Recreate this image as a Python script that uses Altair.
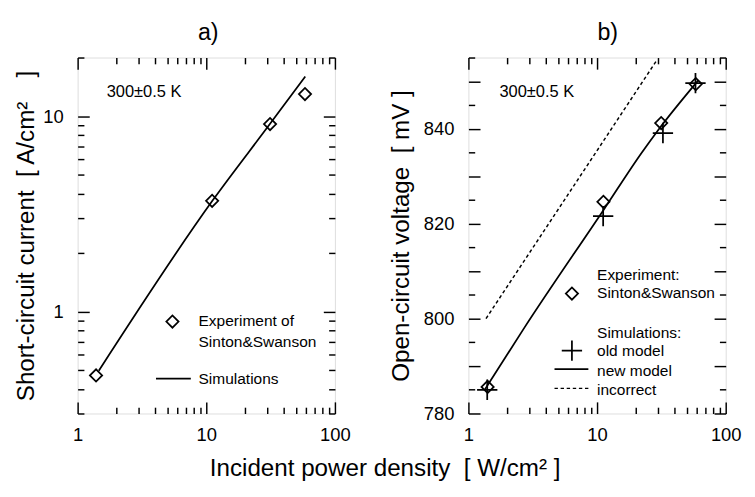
import altair as alt
import pandas as pd

FONT = "Liberation Sans"
W, H = 266, 368
MAJOR_LEN, MINOR_LEN = 12, 6.5

# ---------------- data ----------------
# panel a) short-circuit current
isc_exp_power = [1.39, 11.1, 31.3, 58.5]
isc_exp = [0.47, 3.69, 9.12, 13.0]
isc_sim_power = [1.46, 11.15, 31.2, 58.8]
isc_sim = [0.497, 3.69, 9.12, 16.0]

# panel b) open-circuit voltage
voc_exp_power = [1.41, 11.2, 31.5, 58.5]
voc_exp = [785.6, 824.6, 841.2, 849.4]
voc_old_power = [1.40, 11.15, 32.5, 58.2]
voc_old = [785.0, 821.6, 839.1, 849.6]
voc_new_power = [1.33, 2.74, 11.3, 22.3, 29.8, 61.2]
voc_new = [784.9, 798.2, 823.0, 835.0, 839.7, 850.2]
voc_bad_power = [1.37, 28.9]
voc_bad = [800.0, 854.3]

# axis ranges and tick values
x_range = [1, 100]
x_minor = [2, 3, 4, 5, 6, 7, 8, 9, 20, 30, 40, 50, 60, 70, 80, 90]
x_major = [1, 10, 100]
x_labels = [1, 10, 100]
isc_range = [0.3, 20]
isc_minor = [0.3, 0.4, 0.5, 0.6, 0.7, 0.8, 0.9, 2, 3, 4, 5, 6, 7, 8, 9, 20]
isc_major = [1, 10]
isc_labels = [1, 10]
voc_range = [780, 855]
voc_minor = [785, 795, 805, 815, 825, 835, 845, 855]
voc_major = [780, 790, 800, 810, 820, 830, 840, 850]
voc_labels = [780, 800, 820, 840]

# ---------------- helpers ----------------
XS = alt.Scale(type="log", domain=x_range, nice=False)
XAXIS = alt.Axis(orient="bottom", values=x_labels, format="~g", title=None, ticks=False,
                 domain=False, grid=False, labelFontSize=19, labelPadding=13, labelFlush=False,
                 labelOverlap=False, labelColor="black", labelFont=FONT)


def yaxis(vals, title, fmt, tpad):
    return alt.Axis(orient="left", values=vals, format=fmt, title=title, ticks=False,
                    domain=False, grid=False, labelFontSize=19, labelPadding=15,
                    labelFlush=False, labelOverlap=False, labelColor="black", labelFont=FONT,
                    titleFontSize=25, titleFontWeight="normal", titleFont=FONT,
                    titleColor="black", titlePadding=tpad)


def tick_axis(orient, values, length):
    # inward ticks: the axis line is moved inside the frame by the tick length
    return alt.Axis(orient=orient, values=values, tickSize=length, offset=-length,
                    labels=False, domain=False, grid=False, title=None, ticks=True,
                    tickColor="black", tickWidth=1.5, tickCap="butt")


def text(t, x, y, size=16, align="left"):
    return alt.Chart(alt.Data(values=[{"t": t}])).mark_text(
        align=align, baseline="middle", fontSize=size, font=FONT, color="black"
    ).encode(x=alt.value(x), y=alt.value(y), text="t:N")


def sample_line(x1, x2, y, dash=None):
    kw = dict(color="black", strokeWidth=1.8)
    if dash:
        kw["strokeDash"] = dash
        kw["strokeWidth"] = 1.5
    return alt.Chart(alt.Data(values=[{"a": 1}])).mark_rule(**kw).encode(
        x=alt.value(x1), x2=alt.value(x2), y=alt.value(y))


def sample_point(x, y, **kw):
    return alt.Chart(alt.Data(values=[{"a": 1}])).mark_point(
        filled=False, color="black", opacity=1, **kw).encode(x=alt.value(x), y=alt.value(y))


DIAMOND = dict(shape="diamond", size=160, strokeWidth=1.8)
CROSS = dict(shape="M-1,0L1,0M0,-1L0,1", size=441, strokeWidth=1.8)


def tick_layers(df, yscale, ymajor, yminor):
    layers = []
    for xo, yo, xv, yv, length in (
        ("top", "left", x_major, ymajor, MAJOR_LEN),
        ("top", "left", x_minor, yminor, MINOR_LEN),
        ("bottom", "right", x_major, ymajor, MAJOR_LEN),
        ("bottom", "right", x_minor, yminor, MINOR_LEN),
    ):
        layers.append(alt.Chart(df).mark_point(opacity=0).encode(
            x=alt.X("p:Q", scale=XS, axis=tick_axis(xo, xv, length)),
            y=alt.Y("q:Q", scale=yscale, axis=tick_axis(yo, yv, length)),
        ))
    return layers


# ---------------- panel a ----------------
YA_S = alt.Scale(type="log", domain=isc_range, nice=False)
YA_AX = yaxis(isc_labels, "Short-circuit current\u00a0\u00a0[ A/cm\u00b2\u2003]", "~g", 5)

a_exp = pd.DataFrame({"p": isc_exp_power, "q": isc_exp})
a_sim = pd.DataFrame({"p": isc_sim_power, "q": isc_sim})

a_pts = alt.Chart(a_exp).mark_point(filled=False, color="black", opacity=1, **DIAMOND).encode(
    x=alt.X("p:Q", scale=XS, axis=XAXIS), y=alt.Y("q:Q", scale=YA_S, axis=YA_AX))
a_line = alt.Chart(a_sim).mark_line(color="black", strokeWidth=1.8, interpolate="monotone").encode(
    x=alt.X("p:Q", scale=XS, axis=None), y=alt.Y("q:Q", scale=YA_S, axis=None))

panel_a = alt.layer(
    a_pts, a_line, *tick_layers(a_exp, YA_S, isc_major, isc_minor),
    text("300\u00b10.5 K", 30, 36, size=17),
    sample_point(98, 273, **DIAMOND),
    text("Experiment of", 125, 273),
    text("Sinton&Swanson", 125, 294),
    sample_line(81, 117, 332),
    text("Simulations", 125, 332),
).resolve_axis(x="independent", y="independent").properties(
    width=W, height=H,
    title=alt.TitleParams("a)", fontSize=24, fontWeight="normal", font=FONT, color="black",
                          anchor="middle", frame="group", offset=12, dx=2),
)

# ---------------- panel b ----------------
YB_S = alt.Scale(type="linear", domain=voc_range, nice=False, zero=False)
YB_AX = yaxis(voc_labels, "Open-circuit voltage\u00a0\u00a0[ mV\u00a0]", "d", 10)

b_exp = pd.DataFrame({"p": voc_exp_power, "q": voc_exp})
b_old = pd.DataFrame({"p": voc_old_power, "q": voc_old})
b_new = pd.DataFrame({"p": voc_new_power, "q": voc_new})
b_bad = pd.DataFrame({"p": voc_bad_power, "q": voc_bad})


def bx():
    return alt.X("p:Q", scale=XS, axis=None)


def by():
    return alt.Y("q:Q", scale=YB_S, axis=None)


b_exp_p = alt.Chart(b_exp).mark_point(filled=False, color="black", opacity=1, **DIAMOND).encode(
    x=alt.X("p:Q", scale=XS, axis=XAXIS), y=alt.Y("q:Q", scale=YB_S, axis=YB_AX))
b_new_l = alt.Chart(b_new).mark_line(color="black", strokeWidth=1.8, interpolate="monotone").encode(
    x=bx(), y=by())
b_bad_l = alt.Chart(b_bad).mark_line(color="black", strokeWidth=1.5, strokeDash=[3.5, 2.8]).encode(
    x=bx(), y=by())
b_old_p = alt.Chart(b_old).mark_point(filled=False, color="black", opacity=1, **CROSS).encode(
    x=bx(), y=by())

panel_b = alt.layer(
    b_exp_p, b_bad_l, b_new_l, b_old_p, *tick_layers(b_exp, YB_S, voc_major, voc_minor),
    text("300\u00b10.5 K", 32, 36, size=17),
    text("Experiment:", 133, 225),
    sample_point(107, 244, **DIAMOND),
    text("Sinton&Swanson", 133, 244),
    text("Simulations:", 133, 285),
    sample_point(107, 303, **CROSS),
    text("old model", 133, 304),
    sample_line(89, 124, 322),
    text("new model", 133, 324),
    sample_line(89, 124, 342, dash=[3.5, 2.8]),
    text("incorrect", 133, 344),
).resolve_axis(x="independent", y="independent").properties(
    width=W, height=H,
    title=alt.TitleParams("b)", fontSize=24, fontWeight="normal", font=FONT, color="black",
                          anchor="middle", frame="group", offset=12, dx=11),
)

chart = alt.hconcat(panel_a, panel_b, spacing=38).properties(
    title=alt.TitleParams("Incident power density\u00a0\u00a0[ W/cm\u00b2 ]", orient="bottom",
                          anchor="middle", fontSize=25, fontWeight="normal", font=FONT,
                          color="black", offset=12, dx=8),
).configure_view(stroke="black", strokeWidth=2).configure(font=FONT)

chart.save("out.html", embed_options={"renderer": "svg", "actions": False})
